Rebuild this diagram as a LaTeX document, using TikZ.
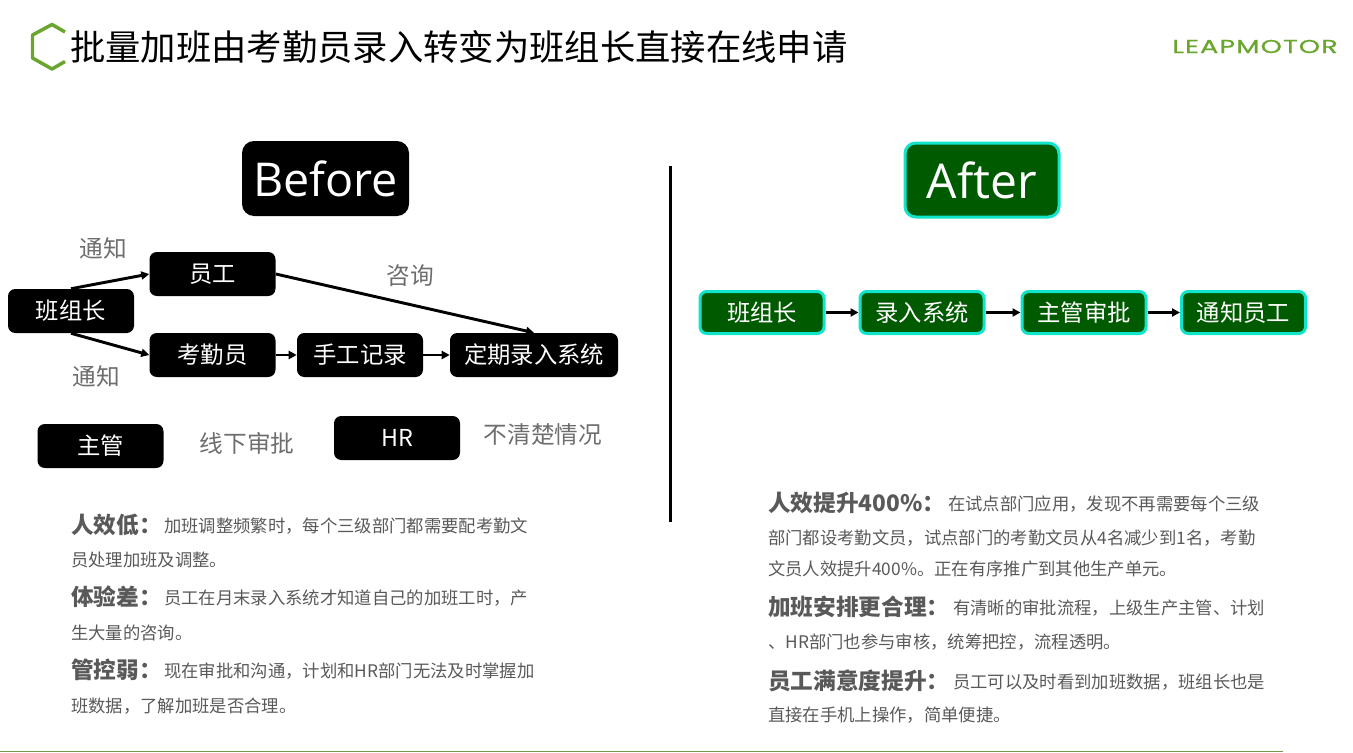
\documentclass[tikz,border=0pt]{standalone}
\usepackage{fontspec}
\setmainfont{Noto Sans CJK SC}
\newfontfamily\latinfont{Open Sans}
\newfontfamily\logofont[FakeStretch=1.45,LetterSpace=6,FakeBold=1]{Poppins}
\usetikzlibrary{arrows.meta}
\definecolor{leapgreen}{HTML}{6AA62E}
\definecolor{darkgreen}{HTML}{005A00}
\definecolor{tealline}{HTML}{10E5CC}
\definecolor{bodygray}{HTML}{595959}
\definecolor{notegray}{HTML}{6E6E6E}
\tikzset{
  blackbox/.style={fill=black,text=white,rounded corners=5.5pt,minimum width=94.5pt,minimum height=33pt,inner sep=0pt,font=\fontsize{17.5pt}{20pt}\selectfont},
  greenbox/.style={fill=darkgreen,draw=tealline,line width=2.25pt,text=white,rounded corners=5pt,minimum width=93pt,minimum height=31.5pt,inner sep=0pt,font=\fontsize{17.5pt}{20pt}\selectfont},
  note/.style={text=notegray,inner sep=0pt,font=\fontsize{17.75pt}{20pt}\selectfont},
  bodyline/.style={anchor=base west,text=bodygray,inner sep=0pt,font=\fontsize{13pt}{16pt}\selectfont},
  flow/.style={line width=2.2pt,-{Triangle[length=6pt,width=6pt]}},
}
\newcommand{\lead}[2]{\makebox[#1][l]{\fontsize{17pt}{20pt}\selectfont\bfseries\raisebox{-0.75pt}{#2}}}
\begin{document}
\begin{tikzpicture}[x=0.75pt,y=-0.75pt]
\useasboundingbox (0,0) rectangle (1353,753);
% header
\draw [leapgreen,line width=2.6pt,line join=round] (65,32) -- (52,24.5) -- (32.5,35) -- (32.5,58) -- (52,69) -- (65,61.5);
\node [anchor=base west,inner sep=0pt,font=\fontsize{26.5pt}{30pt}\selectfont] (title) at (70,60) {批量加班由考勤员录入转变为班组长直接在线申请};
\node [anchor=base west,inner sep=0pt,text=leapgreen,font=\logofont\fontsize{14pt}{16pt}\selectfont] (logo) at (1172,53) {LEAPMOTOR};
% left side
\node [fill=black,text=white,rounded corners=9pt,minimum width=125.25pt,minimum height=56.25pt,inner sep=0pt,font=\latinfont\fontsize{35pt}{40pt}\selectfont] (before) at (325.5,178.5) {Before};
\node [blackbox] (leader) at (71,311) {班组长};
\node [blackbox] (staff) at (212.5,274) {员工};
\node [blackbox] (clerk) at (212.5,355) {考勤员};
\node [blackbox] (manual) at (360,355) {手工记录};
\node [blackbox,minimum width=126pt] (entry) at (534,355) {定期录入系统};
\node [blackbox] (super) at (100.5,446) {主管};
\node [blackbox] (hr) at (397,438) {HR};
\draw [flow] (leader.north) -- (staff.west);
\draw [flow] (leader.south) -- (clerk.west);
\draw [flow] (staff.east) -- (entry.north);
\draw [flow] (clerk) -- (manual);
\draw [flow] (manual) -- (entry);
\node [note] (notea) at (103,248) {通知};
\node [note] (noteb) at (96,376) {通知};
\node [note] (notec) at (410,276) {咨询};
\node [note] (noted) at (247,443) {线下审批};
\node [note] (notee) at (543,435) {不清楚情况};
\node [bodyline] (la) at (71,532) {\lead{69.75pt}{人效低：}加班调整频繁时，每个三级部门都需要配考勤文};
\node [bodyline] (lb) at (71,566) {员处理加班及调整。};
\node [bodyline] (lc) at (71,604) {\lead{69.75pt}{体验差：}员工在月末录入系统才知道自己的加班工时，产};
\node [bodyline] (ld) at (71,639) {生大量的咨询。};
\node [bodyline] (le) at (71,677) {\lead{69.75pt}{管控弱：}现在审批和沟通，计划和HR部门无法及时掌握加};
\node [bodyline] (lf) at (71,712) {班数据，了解加班是否合理。};
% divider
\draw [line width=2.25pt] (670,166) -- (670,522);
% right side
\node [fill=darkgreen,draw=tealline,line width=2.25pt,text=white,rounded corners=8pt,minimum width=115.5pt,minimum height=55.5pt,inner sep=0pt,font=\latinfont\fontsize{36pt}{40pt}\selectfont] (after) at (982,180) {After};
\node [greenbox] (leaderb) at (762,312.5) {班组长};
\node [greenbox] (system) at (922,312.5) {录入系统};
\node [greenbox] (approve) at (1084,312.5) {主管审批};
\node [greenbox] (notify) at (1243.5,312.5) {通知员工};
\draw [flow] (leaderb) -- (system);
\draw [flow] (system) -- (approve);
\draw [flow] (approve) -- (notify);
\node [bodyline] (ra) at (768,510) {\lead{135pt}{人效提升400\%：}在试点部门应用，发现不再需要每个三级};
\node [bodyline] (rb) at (768,544) {部门都设考勤文员，试点部门的考勤文员从4名减少到1名，考勤};
\node [bodyline] (rc) at (768,575) {文员人效提升400\%。正在有序推广到其他生产单元。};
\node [bodyline] (rd) at (768,614) {\lead{138.75pt}{加班安排更合理：}有清晰的审批流程，上级生产主管、计划};
\node [bodyline] (re) at (768,648) {、HR部门也参与审核，统筹把控，流程透明。};
\node [bodyline] (rf) at (768,688) {\lead{138.75pt}{员工满意度提升：}员工可以及时看到加班数据，班组长也是};
\node [bodyline] (rg) at (768,721) {直接在手机上操作，简单便捷。};
% footer
\draw [leapgreen!60!gray,line width=0.75pt] (0,751) -- (1283,751);
\end{tikzpicture}
\end{document}
